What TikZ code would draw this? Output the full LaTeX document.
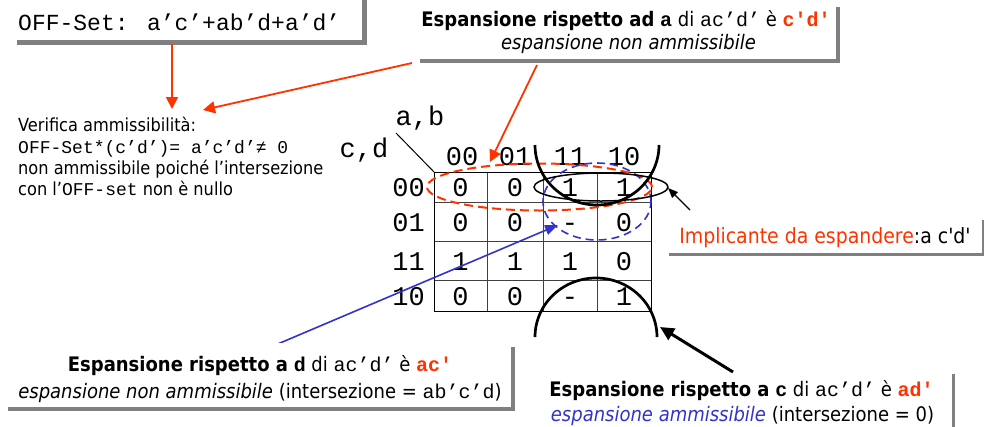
\documentclass[tikz,border=0pt]{standalone}
\usepackage{fontspec}
\setmainfont{DejaVu Sans Condensed}
\setsansfont{DejaVu Sans Condensed}
\setmonofont{Liberation Mono}
\newfontfamily\boxmono{Liberation Mono}
\newfontfamily\impfont{DejaVu Sans Condensed}
\usetikzlibrary{arrows.meta,shadows,shapes.geometric}
\definecolor{myred}{RGB}{255,51,0}
\definecolor{myblue}{RGB}{51,51,204}
\definecolor{shgray}{RGB}{128,128,128}
\tikzset{
  sbox/.style={fill=white, inner sep=0pt, general shadow={fill=shgray, shadow xshift=#1pt, shadow yshift=-#1pt}},
  lt/.style={anchor=base west, inner sep=0pt, font=\fontsize{18}{21}\selectfont},
  ct/.style={anchor=base, inner sep=0pt, font=\fontsize{20}{24}\selectfont},
  kfont/.style={font=\ttfamily\fontsize{27}{30}\selectfont, inner sep=0pt},
  kcell/.style={kfont, anchor=base},
  redarrow/.style={draw=myred, line width=1.8pt, -{Triangle[length=12pt,width=12pt]}},
  bluearrow/.style={draw=myblue, line width=1.6pt, -{Triangle[length=13pt,width=10pt]}},
  thinarrow/.style={draw=black, line width=1.2pt, -{Triangle[length=10pt,width=8pt]}},
  thickarrow/.style={draw=black, line width=3pt, -{Triangle[length=14pt,width=13pt]}},
  gridout/.style={draw=black, line width=1pt},
  gridin/.style={draw=black!75, line width=1pt},
}
\begin{document}
\begin{tikzpicture}[x=1pt,y=-1pt]
\useasboundingbox[fill=white] (0,0) rectangle (984,426);

% Karnaugh map grid
\draw[gridin] (487,172) -- (487,311) (543,172) -- (543,311) (597,172) -- (597,311);
\draw[gridin] (434,202.5) -- (651,202.5) (434,241.5) -- (651,241.5) (434,280) -- (651,280);
\draw[gridout] (434,172) rectangle (651,311);
\coordinate (corner) at (434,172);
\coordinate (diagend) at (396,133);
\draw[line width=1pt] (diagend) -- (corner);

\node[kfont, anchor=base] (ab) at (420,125) {a,b};
\node[kfont, anchor=base] (cd) at (364,157) {c,d};

% column labels
\node[kcell] (h1) at (462,165) {00};
\node[kcell] (h2) at (515,165) {01};
\node[kcell] (h3) at (570,165) {11};
\node[kcell] (h4) at (624,165) {10};
% row labels
\node[kfont, anchor=base east] (r1) at (425,196.5) {00};
\node[kfont, anchor=base east] (r2) at (425,231.5) {01};
\node[kfont, anchor=base east] (r3) at (425,270.5) {11};
\node[kfont, anchor=base east] (r4) at (425,305) {10};
% cells
\node[kcell] (c11) at (460.5,196.5) {0};
\node[kcell] (c12) at (515,196.5) {0};
\node[kcell] (c13) at (570,196.5) {1};
\node[kcell] (c14) at (624,196.5) {1};
\node[kcell] (c21) at (460.5,231.5) {0};
\node[kcell] (c22) at (515,231.5) {0};
\node[kcell] (c23) at (570,231.5) {-};
\node[kcell] (c24) at (624,231.5) {0};
\node[kcell] (c31) at (460.5,270.5) {1};
\node[kcell] (c32) at (515,270.5) {1};
\node[kcell] (c33) at (570,270.5) {1};
\node[kcell] (c34) at (624,270.5) {0};
\node[kcell] (c41) at (460.5,305) {0};
\node[kcell] (c42) at (515,305) {0};
\node[kcell] (c43) at (570,305) {-};
\node[kcell] (c44) at (624,305) {1};

% groupings
\node[ellipse, draw=myred, line width=2pt, dash pattern=on 9pt off 5pt, minimum width=225pt, minimum height=47pt, inner sep=0pt] (redell) at (539.5,187) {};
\node[ellipse, draw=myblue, line width=1.6pt, dash pattern=on 8pt off 5pt, minimum width=108pt, minimum height=77pt, inner sep=0pt] (blueell) at (597,201.5) {};
\node[ellipse, draw=black, line width=1.5pt, minimum width=134pt, minimum height=28pt, inner sep=0pt] (impell) at (601,187) {};
\draw[line width=2.7pt] plot[domain=180:360, samples=80, smooth] ({597+62*cos(\x)},{145-60*sin(\x)});
\draw[line width=2.7pt] plot[domain=0:180, samples=80, smooth] ({596+61*cos(\x)},{337-59*sin(\x)});

% connector coordinates
\coordinate (offout) at (172,44);
\coordinate (verif) at (172,109);
\coordinate (aout1) at (412,63);
\coordinate (verif2) at (203,110);
\coordinate (aout2) at (537,65);
\coordinate (redtip) at (490,162);
\coordinate (dout) at (273,346);
\coordinate (bluetip) at (558,225);
\coordinate (impout) at (690,210);
\coordinate (imptip) at (668,188);
\coordinate (cout) at (733,372);
\coordinate (captip) at (660,327);

\draw[bluearrow] (dout) -- (bluetip);

% boxes
\node[sbox=5, minimum width=350pt, minimum height=50pt] (offbox) at (187,15) {};
\node[sbox=4, minimum width=420pt, minimum height=56pt] (abox) at (626,31) {};
\node[sbox=3, minimum width=316pt, minimum height=36pt] (impbox) at (824,235) {};
\node[sbox=4, minimum width=507pt, minimum height=64pt] (dbox) at (257.5,375) {};
\node[sbox=3, minimum width=412pt, minimum height=61pt] (cbox) at (746,401.5) {};

\draw[redarrow] (offout) -- (verif);
\draw[redarrow] (aout1) -- (verif2);
\draw[redarrow] (aout2) -- (redtip);
\draw[thinarrow] (impout) -- (imptip);
\draw[thickarrow] (cout) -- (captip);

% texts
\node[anchor=base west, inner sep=0pt, font=\ttfamily\fontsize{23}{27}\selectfont] (offtxt) at (18,30) {OFF-Set: a’c’+ab’d+a’d’};

\node[lt] (v1) at (18,131) {Verifica ammissibilità:};
\node[lt] (v2) at (18,153) {\ttfamily OFF-Set*(c’d’)= a’c’d’≠ 0};
\node[lt] (v3) at (18,174) {non ammissibile poiché l’intersezione};
\node[lt] (v4) at (18,195) {con l’{\ttfamily OFF-set} non è nullo};

\node[ct] (a1) at (626,26.7) {\textbf{Espansione rispetto ad} {\boxmono\bfseries a} di {\boxmono ac’d’} è {\color{myred}\boxmono\bfseries c'd'}};
\node[ct] (a2) at (628.5,49.3) {\textit{espansione non ammissibile}};

\node[anchor=base, inner sep=0pt, font=\impfont\fontsize{21}{25}\selectfont] (imptxt) at (825,243.3) {\textcolor{myred}{Implicante da espandere}:a c'd'};

\node[ct] (d1) at (260,371.7) {\textbf{Espansione rispetto a} {\boxmono\bfseries d} di {\boxmono ac’d’} è {\color{myred}\boxmono\bfseries ac'}};
\node[ct] (d2) at (260,398.3) {\textit{espansione non ammissibile} (intersezione = {\boxmono ab’c’d})};

\node[ct] (c1) at (741.5,396.5) {\textbf{Espansione rispetto a} {\boxmono\bfseries c} di {\boxmono ac’d’} è {\color{myred}\boxmono\bfseries ad'}};
\node[ct] (c2) at (742.5,421) {{\color{myblue}\itshape espansione ammissibile} (intersezione = 0)};
\end{tikzpicture}
\end{document}
